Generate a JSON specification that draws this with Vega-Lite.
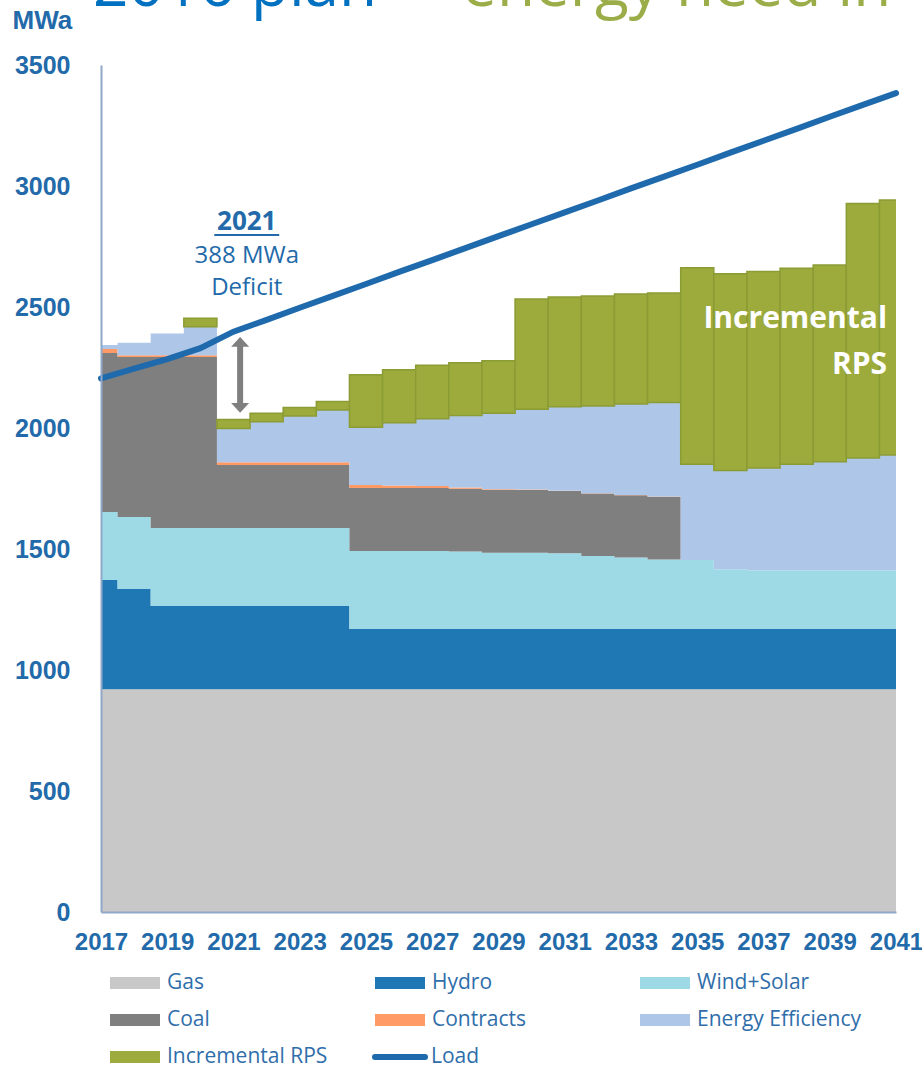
{
  "$schema": "https://vega.github.io/schema/vega-lite/v6.json",
  "autosize": {"type": "none"},
  "width": 795,
  "height": 847,
  "padding": {"left": 101, "top": 65, "right": 26, "bottom": 156},
  "background": "white",
  "config": {"view": {"stroke": null}, "font": "Liberation Sans"},
  "datasets": {
    "plan": [
      {"year": 2017, "Gas": 920, "Hydro": 452, "Wind+Solar": 281, "Coal": 657, "Contracts": 16, "Energy Efficiency": 17, "Incremental RPS": 0, "Load": 2205},
      {"year": 2018, "Gas": 920, "Hydro": 415, "Wind+Solar": 297, "Coal": 661, "Contracts": 8, "Energy Efficiency": 51, "Incremental RPS": 0, "Load": 2245},
      {"year": 2019, "Gas": 920, "Hydro": 344, "Wind+Solar": 323, "Coal": 706, "Contracts": 8, "Energy Efficiency": 90, "Incremental RPS": 0, "Load": 2285},
      {"year": 2020, "Gas": 920, "Hydro": 344, "Wind+Solar": 323, "Coal": 706, "Contracts": 8, "Energy Efficiency": 117, "Incremental RPS": 35, "Load": 2330},
      {"year": 2021, "Gas": 920, "Hydro": 344, "Wind+Solar": 323, "Coal": 260, "Contracts": 11, "Energy Efficiency": 140, "Incremental RPS": 37, "Load": 2398},
      {"year": 2022, "Gas": 920, "Hydro": 344, "Wind+Solar": 323, "Coal": 260, "Contracts": 11, "Energy Efficiency": 168, "Incremental RPS": 35, "Load": 2447},
      {"year": 2023, "Gas": 920, "Hydro": 344, "Wind+Solar": 323, "Coal": 260, "Contracts": 11, "Energy Efficiency": 192, "Incremental RPS": 35, "Load": 2497},
      {"year": 2024, "Gas": 920, "Hydro": 344, "Wind+Solar": 323, "Coal": 260, "Contracts": 11, "Energy Efficiency": 216, "Incremental RPS": 35, "Load": 2546},
      {"year": 2025, "Gas": 920, "Hydro": 249, "Wind+Solar": 323, "Coal": 260, "Contracts": 12, "Energy Efficiency": 239, "Incremental RPS": 217, "Load": 2595},
      {"year": 2026, "Gas": 920, "Hydro": 249, "Wind+Solar": 323, "Coal": 260, "Contracts": 10, "Energy Efficiency": 260, "Incremental RPS": 219, "Load": 2645},
      {"year": 2027, "Gas": 920, "Hydro": 249, "Wind+Solar": 323, "Coal": 260, "Contracts": 8, "Energy Efficiency": 278, "Incremental RPS": 221, "Load": 2694},
      {"year": 2028, "Gas": 920, "Hydro": 249, "Wind+Solar": 321, "Coal": 259, "Contracts": 5, "Energy Efficiency": 298, "Incremental RPS": 218, "Load": 2743},
      {"year": 2029, "Gas": 920, "Hydro": 249, "Wind+Solar": 315, "Coal": 260, "Contracts": 3, "Energy Efficiency": 314, "Incremental RPS": 217, "Load": 2793},
      {"year": 2030, "Gas": 920, "Hydro": 249, "Wind+Solar": 315, "Coal": 260, "Contracts": 2, "Energy Efficiency": 331, "Incremental RPS": 456, "Load": 2842},
      {"year": 2031, "Gas": 920, "Hydro": 249, "Wind+Solar": 313, "Coal": 258, "Contracts": 1, "Energy Efficiency": 347, "Incremental RPS": 453, "Load": 2891},
      {"year": 2032, "Gas": 920, "Hydro": 249, "Wind+Solar": 302, "Coal": 258, "Contracts": 1, "Energy Efficiency": 361, "Incremental RPS": 454, "Load": 2940},
      {"year": 2033, "Gas": 920, "Hydro": 249, "Wind+Solar": 296, "Coal": 257, "Contracts": 1, "Energy Efficiency": 376, "Incremental RPS": 455, "Load": 2990},
      {"year": 2034, "Gas": 920, "Hydro": 249, "Wind+Solar": 288, "Coal": 259, "Contracts": 1, "Energy Efficiency": 388, "Incremental RPS": 453, "Load": 3039},
      {"year": 2035, "Gas": 920, "Hydro": 249, "Wind+Solar": 286, "Coal": 0, "Contracts": 0, "Energy Efficiency": 395, "Incremental RPS": 812, "Load": 3088},
      {"year": 2036, "Gas": 920, "Hydro": 249, "Wind+Solar": 247, "Coal": 0, "Contracts": 0, "Energy Efficiency": 408, "Incremental RPS": 813, "Load": 3138},
      {"year": 2037, "Gas": 920, "Hydro": 249, "Wind+Solar": 243, "Coal": 0, "Contracts": 0, "Energy Efficiency": 423, "Incremental RPS": 812, "Load": 3187},
      {"year": 2038, "Gas": 920, "Hydro": 249, "Wind+Solar": 243, "Coal": 0, "Contracts": 0, "Energy Efficiency": 438, "Incremental RPS": 810, "Load": 3236},
      {"year": 2039, "Gas": 920, "Hydro": 249, "Wind+Solar": 243, "Coal": 0, "Contracts": 0, "Energy Efficiency": 449, "Incremental RPS": 813, "Load": 3286},
      {"year": 2040, "Gas": 920, "Hydro": 249, "Wind+Solar": 243, "Coal": 0, "Contracts": 0, "Energy Efficiency": 464, "Incremental RPS": 1052, "Load": 3335},
      {"year": 2041, "Gas": 920, "Hydro": 249, "Wind+Solar": 243, "Coal": 0, "Contracts": 0, "Energy Efficiency": 476, "Incremental RPS": 1054, "Load": 3384}
    ]
  },
  "data": {"name": "plan"},
  "layer": [
    {
      "transform": [
        {"fold": ["Gas", "Hydro", "Wind+Solar", "Coal", "Contracts", "Energy Efficiency", "Incremental RPS"], "as": ["source", "mwa"]},
        {"window": [{"op": "row_number", "as": "k"}], "groupby": ["year"]}
      ],
      "mark": {"type": "area", "interpolate": "step", "opacity": 1},
      "encoding": {
        "x": {
          "field": "year", "type": "quantitative",
          "scale": {"domain": [2017, 2041], "nice": false, "zero": false, "padding": 0},
          "axis": {
            "values": [2017, 2019, 2021, 2023, 2025, 2027, 2029, 2031, 2033, 2035, 2037, 2039, 2041],
            "format": "d", "title": null, "grid": false, "ticks": false, "zindex": 1,
            "labelFont": "Liberation Sans", "labelFontWeight": "bold", "labelFontSize": 24,
            "labelColor": "#226aa9", "labelPadding": 18, "labelFlush": false, "labelOverlap": false, "labelBound": false,
            "domainColor": "#8fa8c8", "domainWidth": 2
          }
        },
        "y": {
          "field": "mwa", "type": "quantitative", "stack": "zero",
          "scale": {"domain": [0, 3500], "nice": false, "padding": 0},
          "axis": {
            "values": [0, 500, 1000, 1500, 2000, 2500, 3000, 3500],
            "format": "d", "zindex": 1,
            "title": "MWa", "titleAngle": 0, "titleX": -89, "titleY": -37, "titleAlign": "left", "titleBaseline": "alphabetic",
            "titleFont": "Liberation Sans Narrow, Liberation Sans", "titleFontSize": 26, "titleFontWeight": "bold", "titleColor": "#226aa9",
            "grid": false, "ticks": false,
            "labelFont": "Liberation Sans", "labelFontWeight": "bold", "labelFontSize": 25,
            "labelColor": "#226aa9", "labelPadding": 31, "labelFlush": false, "labelOverlap": false,
            "domainColor": "#8fa8c8", "domainWidth": 2
          }
        },
        "color": {
          "field": "source", "type": "nominal",
          "scale": {
            "domain": ["Gas", "Hydro", "Wind+Solar", "Coal", "Contracts", "Energy Efficiency", "Incremental RPS"],
            "range": ["#c8c8c8", "#1f77b4", "#9edae5", "#7f7f7f", "#ff9966", "#aec7e8", "#9dab3c"]
          },
          "legend": {
            "orient": "none", "legendX": 9, "legendY": 893,
            "direction": "horizontal", "columns": 3, "gridAlign": "all",
            "columnPadding": 43, "rowPadding": 2, "padding": 0, "title": null,
            "symbolType": "M-1,-0.24H1V0.24H-1Z", "symbolSize": 2500, "symbolStrokeWidth": 0, "symbolOpacity": 1,
            "labelFont": "Open Sans", "labelFontSize": 21, "labelColor": "#2f6eaa", "labelOffset": 7, "labelLimit": 300
          }
        },
        "order": {"field": "k", "type": "quantitative"}
      }
    },
    {
      "transform": [
        {"fold": ["Gas", "Hydro", "Wind+Solar", "Coal", "Contracts", "Energy Efficiency", "Incremental RPS"], "as": ["source", "mwa"]},
        {"window": [{"op": "row_number", "as": "k"}], "groupby": ["year"]},
        {"stack": "mwa", "groupby": ["year"], "sort": [{"field": "k", "order": "ascending"}], "as": ["lo", "hi"]},
        {"filter": "datum.source === 'Incremental RPS' && datum.mwa > 0"}
      ],
      "mark": {"type": "bar", "width": 33.125, "clip": true, "fill": "#9dab3c", "stroke": "#8c9c35", "strokeWidth": 1.5},
      "encoding": {
        "x": {"field": "year", "type": "quantitative"},
        "y": {"field": "hi", "type": "quantitative"},
        "y2": {"field": "lo"}
      }
    },
    {
      "mark": {"type": "line", "strokeWidth": 6, "strokeCap": "round"},
      "encoding": {
        "x": {"field": "year", "type": "quantitative"},
        "y": {"field": "Load", "type": "quantitative"},
        "stroke": {
          "datum": "Load",
          "scale": {"domain": ["Load"], "range": ["#1f6aad"]},
          "legend": {
            "orient": "none", "legendX": 271, "legendY": 964, "padding": 0, "title": null,
            "symbolType": "stroke", "symbolSize": 2500, "symbolStrokeWidth": 6, "symbolOpacity": 1,
            "labelFont": "Open Sans", "labelFontSize": 21, "labelColor": "#2f6eaa", "labelOffset": 3,
            "encode": {"symbols": {"update": {"strokeCap": {"value": "round"}}}}
          }
        }
      }
    },
    {
      "data": {"values": [{}]},
      "mark": {"type": "rule", "strokeWidth": 6, "color": "#7f7f7f"},
      "encoding": {"x": {"datum": 2021.2}, "y": {"datum": 2356}, "y2": {"datum": 2083}}
    },
    {
      "data": {"values": [{}]},
      "mark": {"type": "point", "shape": "M-1,0.55L0,-0.55L1,0.55Z", "size": 324, "filled": true, "color": "#7f7f7f", "opacity": 1},
      "encoding": {"x": {"datum": 2021.2}, "y": {"datum": 2356}}
    },
    {
      "data": {"values": [{}]},
      "mark": {"type": "point", "shape": "M-1,-0.55L0,0.55L1,-0.55Z", "size": 324, "filled": true, "color": "#7f7f7f", "opacity": 1},
      "encoding": {"x": {"datum": 2021.2}, "y": {"datum": 2083}}
    },
    {
      "data": {"values": [{}]},
      "mark": {"type": "text", "font": "Open Sans", "fontSize": 26, "fontWeight": "bold", "color": "#226aa9", "align": "center", "baseline": "middle"},
      "encoding": {"x": {"datum": 2021.4}, "y": {"datum": 2852}, "text": {"value": "2021"}}
    },
    {
      "data": {"values": [{}]},
      "mark": {"type": "rule", "strokeWidth": 2, "color": "#226aa9"},
      "encoding": {"x": {"datum": 2020.42}, "x2": {"datum": 2022.38}, "y": {"datum": 2798}}
    },
    {
      "data": {"values": [{}]},
      "mark": {"type": "text", "font": "Open Sans", "fontSize": 24, "color": "#226aa9", "align": "center", "baseline": "middle"},
      "encoding": {"x": {"datum": 2021.4}, "y": {"datum": 2712}, "text": {"value": "388 MWa"}}
    },
    {
      "data": {"values": [{}]},
      "mark": {"type": "text", "font": "Open Sans", "fontSize": 24, "color": "#226aa9", "align": "center", "baseline": "middle"},
      "encoding": {"x": {"datum": 2021.4}, "y": {"datum": 2580}, "text": {"value": "Deficit"}}
    },
    {
      "data": {"values": [{}]},
      "mark": {"type": "text", "font": "Open Sans", "fontSize": 30, "fontWeight": "bold", "color": "white", "align": "right", "baseline": "middle"},
      "encoding": {"x": {"datum": 2040.73}, "y": {"datum": 2450}, "text": {"value": "Incremental"}}
    },
    {
      "data": {"values": [{}]},
      "mark": {"type": "text", "font": "Open Sans", "fontSize": 30, "fontWeight": "bold", "color": "white", "align": "right", "baseline": "middle"},
      "encoding": {"x": {"datum": 2040.73}, "y": {"datum": 2262}, "text": {"value": "RPS"}}
    },
    {
      "data": {"values": [{}]},
      "mark": {"type": "text", "font": "Open Sans", "fontSize": 62, "color": "#0070c0", "align": "left", "baseline": "alphabetic"},
      "encoding": {"x": {"datum": 2016.76}, "y": {"datum": 3745}, "text": {"value": "2016 plan –"}}
    },
    {
      "data": {"values": [{}]},
      "mark": {"type": "text", "font": "Open Sans", "fontSize": 62, "color": "#9bad48", "align": "left", "baseline": "alphabetic"},
      "encoding": {"x": {"datum": 2027.9}, "y": {"datum": 3745}, "text": {"value": "energy need in"}}
    }
  ]
}
